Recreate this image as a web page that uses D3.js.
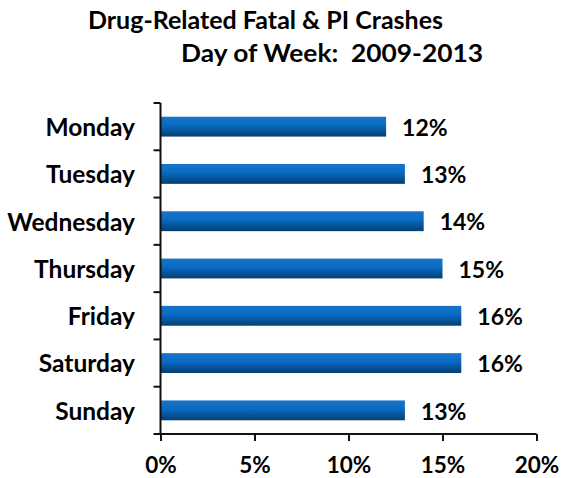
<!DOCTYPE html>
<html>
<head>
<meta charset="utf-8">
<script src="https://cdn.jsdelivr.net/npm/d3@7"></script>
<style>
body{margin:0;background:#fff}
text{font-family:Lato,"Open Sans",sans-serif;font-weight:bold;fill:#000;white-space:pre}
</style>
</head>
<body>
<div id="container"></div>
<script>
var days = ["Monday","Tuesday","Wednesday","Thursday","Friday","Saturday","Sunday"]
var pct = [12,13,14,15,16,16,13]
var xTicks = [0,5,10,15,20]
var titleLines = ["Drug-Related Fatal & PI Crashes","Day of Week:  2009-2013"]

var w = 561
var h = 478
var plotLeft = 160.5
var plotRight = 536.5
var plotTop = 103
var plotBottom = 434

var svg = d3.select("#container").append("svg").attr("width",w).attr("height",h)

var grad = svg.append("defs").append("linearGradient").attr("id","barGrad")
    .attr("x1",0).attr("y1",0).attr("x2",0).attr("y2",1)
grad.append("stop").attr("offset","0%").attr("stop-color","#1a74c6")
grad.append("stop").attr("offset","40%").attr("stop-color","#0a6cc6")
grad.append("stop").attr("offset","100%").attr("stop-color","#033f72")

var xScale = d3.scaleLinear().domain([0,20]).range([plotLeft,plotRight])
var yScale = d3.scaleBand().domain(days).range([plotTop,plotBottom]).paddingInner(0.58).paddingOuter(0.29)

// title
svg.append("text").text(titleLines[0]).attr("x",88).attr("y",29).style("font-size","25px")
    .attr("textLength",355).attr("lengthAdjust","spacingAndGlyphs")
svg.append("text").text(titleLines[1]).attr("x",181).attr("y",62).style("font-size","25px")
    .attr("textLength",302).attr("lengthAdjust","spacingAndGlyphs")

// bars
svg.selectAll(".bar").data(days).enter().append("rect")
    .attr("class","bar")
    .attr("x",xScale(0))
    .attr("y",function(d){return yScale(d)})
    .attr("width",function(d,i){return xScale(pct[i])-xScale(0)})
    .attr("height",yScale.bandwidth())
    .attr("fill","url(#barGrad)")

// value labels
svg.selectAll(".val").data(days).enter().append("text")
    .attr("class","val")
    .attr("x",function(d,i){return xScale(pct[i])+16})
    .attr("y",function(d){return yScale(d)+yScale.bandwidth()/2})
    .attr("dy","0.4em")
    .style("font-size","23px")
    .text(function(d,i){return pct[i]+"%"})

// y axis: line + ticks between categories
var yAxisG = svg.append("g")
yAxisG.append("line").attr("x1",plotLeft).attr("x2",plotLeft).attr("y1",plotTop).attr("y2",plotBottom)
    .attr("stroke","#111").attr("stroke-width",2)
var bounds = d3.range(days.length+1).map(function(i){return plotTop+i*(plotBottom-plotTop)/days.length})
yAxisG.selectAll(".yt").data(bounds).enter().append("line")
    .attr("x1",plotLeft-7).attr("x2",plotLeft).attr("y1",function(d){return d}).attr("y2",function(d){return d})
    .attr("stroke","#111").attr("stroke-width",2)
yAxisG.selectAll(".yl").data(days).enter().append("text")
    .attr("x",135)
    .attr("y",function(d){return yScale(d)+yScale.bandwidth()/2})
    .attr("dy","0.38em")
    .attr("text-anchor","end")
    .style("font-size","24.5px")
    .text(function(d){return d})

// x axis
var xAxis = d3.axisBottom(xScale).tickValues(xTicks).tickSize(7).tickPadding(16)
    .tickFormat(function(d){return d+"%"})
var xg = svg.append("g").attr("transform","translate(0,"+plotBottom+")").call(xAxis)
xg.select(".domain").attr("stroke","#111").attr("stroke-width",2).attr("d","M"+plotLeft+",0H"+plotRight)
xg.selectAll(".tick line").attr("stroke","#111").attr("stroke-width",2)
xg.selectAll(".tick text").style("font-size","22.5px").attr("fill","#000")
    .style("font-family","Lato, 'Open Sans', sans-serif").style("font-weight","bold")
</script>
</body>
</html>
